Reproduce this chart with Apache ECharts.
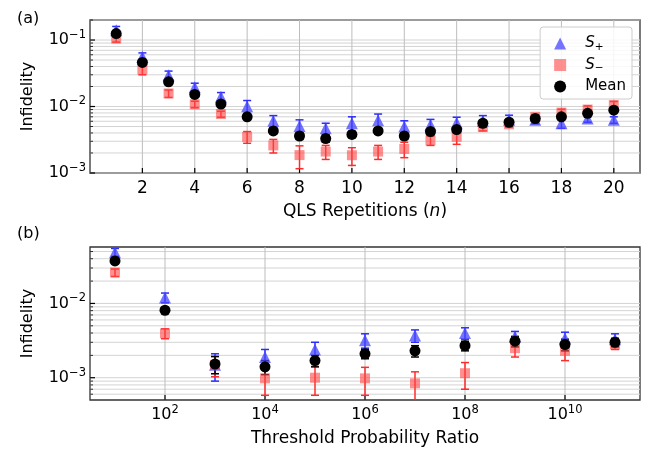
<!DOCTYPE html>
<html>
<head>
<meta charset="utf-8">
<script src="https://cdn.jsdelivr.net/npm/echarts@6/dist/echarts.min.js"></script>
<style>
  html, body { margin: 0; padding: 0; background: #fff; }
  #chart { width: 651px; height: 449px; }
</style>
</head>
<body>
<div id="chart"></div>
<script>
// panel (a): QLS repetitions
var reps = [1, 2, 3, 4, 5, 6, 7, 8, 9, 10, 11, 12, 13, 14, 15, 16, 17, 18, 19, 20];
var topSplus = [0.14, 0.056, 0.0296, 0.0194, 0.014, 0.0101, 0.0061, 0.0051, 0.0047, 0.0056, 0.0062, 0.005, 0.0053, 0.0057, 0.0061, 0.0063, 0.0063, 0.0056, 0.0066, 0.0063];
var topSplusErr = [0.02, 0.008, 0.0045, 0.003, 0.0022, 0.0022, 0.0012, 0.0012, 0.0009, 0.0014, 0.0015, 0.0011, 0.0011, 0.0012, 0.0012, 0.0011, 0.0008, 0.0009, 0.0008, 0.0007];
var topSminus = [0.105, 0.036, 0.0157, 0.0108, 0.0077, 0.0035, 0.0026, 0.00186, 0.0021, 0.00185, 0.0021, 0.0023, 0.0031, 0.0035, 0.0049, 0.0054, 0.007, 0.0081, 0.009, 0.0105];
var topSminusErr = [0.012, 0.006, 0.002, 0.0012, 0.0008, 0.0007, 0.0006, 0.0007, 0.0005, 0.00055, 0.0005, 0.0006, 0.0005, 0.0008, 0.0006, 0.0005, 0.0006, 0.001, 0.0012, 0.0014];
var topMean = [0.125, 0.046, 0.0235, 0.0152, 0.0109, 0.007, 0.0043, 0.0036, 0.0033, 0.0038, 0.0043, 0.0036, 0.0042, 0.0045, 0.0056, 0.0058, 0.0066, 0.007, 0.0079, 0.0088];
var topMeanErr = [0.008, 0.003, 0.0015, 0.001, 0.0007, 0.0004, 0.0004, 0.0004, 0.0004, 0.0004, 0.0004, 0.0004, 0.0004, 0.0004, 0.0004, 0.0004, 0.0004, 0.0005, 0.0005, 0.0006];

// panel (b): threshold probability ratio, stored as powers of ten
var ratioExp = [1, 2, 3, 4, 5, 6, 7, 8, 9, 10, 11];
var botSplus = [0.049, 0.012, 0.0015, 0.0019, 0.0024, 0.0032, 0.0037, 0.004, 0.0036, 0.0034, 0.0033];
var botSplusErr = [0.006, 0.0018, 0.0006, 0.0005, 0.0006, 0.0007, 0.0007, 0.0007, 0.0006, 0.0007, 0.0006];
var botSminus = [0.0261, 0.00395, 0.00148, 0.00098, 0.001, 0.00098, 0.00084, 0.00115, 0.0025, 0.0023, 0.0028];
var botSminusErr = [0.003, 0.0006, 0.00045, 0.0004, 0.00042, 0.0004, 0.00036, 0.00045, 0.0006, 0.0006, 0.0004];
var botMean = [0.0374, 0.0081, 0.00153, 0.0014, 0.0017, 0.0021, 0.0023, 0.0027, 0.0031, 0.0028, 0.003];
var botMeanErr = [0.003, 0.0006, 0.0004, 0.0003, 0.0003, 0.0003, 0.0004, 0.0004, 0.0005, 0.0005, 0.0004];

var topXTicks = [2, 4, 6, 8, 10, 12, 14, 16, 18, 20];
var botXTicks = [2, 4, 6, 8, 10];

var FONT = 'DejaVu Sans';
var chart = echarts.init(document.getElementById('chart'), null, {renderer: 'canvas'});

function lg(v) { return Math.log(v) / Math.LN10; }

// log positions of 1..9 x 10^n inside [lo, hi]
function logLines(lo, hi) {
    var out = [];
    for (var n = -5; n <= 1; n++) {
        for (var k = 1; k <= 9; k++) {
            var l = lg(k * Math.pow(10, n));
            if (l >= lo - 1e-9 && l <= hi + 1e-9) out.push({v: l, major: k === 1});
        }
    }
    return out;
}

function powLabel(v) {
    if (Math.abs(v - Math.round(v)) > 1e-6) return '';
    var e = Math.round(v);
    return '{b|10}{s|' + String(e).replace('-', '\u2212') + '}';
}

var labelRich = {
    b: {fontFamily: FONT, fontSize: 16, color: '#000'},
    s: {fontFamily: FONT, fontSize: 11.5, color: '#000', padding: [0, 0, 10, 0]}
};

function gridSeries(idx, yLines, xTicks, xMin, xMax) {
    return {
        type: 'custom', xAxisIndex: idx, yAxisIndex: idx, silent: true, z: 1,
        data: [[xMin, yLines[0].v]],
        renderItem: function (params, api) {
            var ch = [];
            yLines.forEach(function (g) {
                var a = api.coord([xMin, g.v]), b = api.coord([xMax, g.v]);
                ch.push({type: 'line', shape: {x1: a[0], y1: a[1], x2: b[0], y2: b[1]},
                    style: {stroke: '#d4d4d4', lineWidth: 1}});
                ch.push({type: 'line', shape: {x1: a[0], y1: a[1], x2: a[0] + (g.major ? 5 : 3), y2: a[1]},
                    style: {stroke: '#000', lineWidth: g.major ? 1.2 : 0.8}});
            });
            var yb = params.coordSys.y + params.coordSys.height;
            var yt = params.coordSys.y;
            xTicks.forEach(function (t) {
                var p = api.coord([t, 0])[0];
                ch.push({type: 'line', shape: {x1: p, y1: yt, x2: p, y2: yb},
                    style: {stroke: '#bdbdbd', lineWidth: 1}});
                ch.push({type: 'line', shape: {x1: p, y1: yb, x2: p, y2: yb - 5},
                    style: {stroke: '#000', lineWidth: 1.2}});
            });
            return {type: 'group', children: ch};
        }
    };
}

function errSeries(idx, xs, vals, errs, color) {
    var data = xs.map(function (x, i) {
        var lo = Math.max(vals[i] - errs[i], 1e-6);
        return [x, lg(lo), lg(vals[i] + errs[i])];
    });
    return {
        type: 'custom', xAxisIndex: idx, yAxisIndex: idx, silent: true, z: 3, clip: true,
        data: data,
        encode: {x: 0, y: [1, 2]},
        renderItem: function (params, api) {
            var a = api.coord([api.value(0), api.value(1)]);
            var b = api.coord([api.value(0), api.value(2)]);
            var st = {stroke: color, lineWidth: 1.5};
            return {type: 'group', children: [
                {type: 'line', shape: {x1: a[0], y1: a[1], x2: b[0], y2: b[1]}, style: st},
                {type: 'line', shape: {x1: a[0] - 4, y1: a[1], x2: a[0] + 4, y2: a[1]}, style: st},
                {type: 'line', shape: {x1: b[0] - 4, y1: b[1], x2: b[0] + 4, y2: b[1]}, style: st}
            ]};
        }
    };
}

function markSeries(idx, name, xs, vals, symbol, size, color) {
    return {
        type: 'scatter', name: name, xAxisIndex: idx, yAxisIndex: idx, z: 4,
        symbol: symbol, symbolSize: size,
        itemStyle: {color: color, opacity: 1},
        data: xs.map(function (x, i) { return [x, lg(vals[i])]; })
    };
}

var blueFill = 'rgba(70,70,255,0.75)';
var redFill = 'rgba(255,70,70,0.6)';

var topYMin = -3, topYMax = lg(0.2);
var botYMin = -3.3, botYMax = -1.24;

var series = [
    gridSeries(0, logLines(topYMin, topYMax), topXTicks, 0, 21),
    gridSeries(1, logLines(botYMin, botYMax), botXTicks, 0.5, 11.5),
    errSeries(0, reps, topSplus, topSplusErr, '#2b2bff'),
    markSeries(0, 'S+', reps, topSplus, 'triangle', 12, blueFill),
    errSeries(0, reps, topSminus, topSminusErr, '#ff2b2b'),
    markSeries(0, 'S\u2212', reps, topSminus, 'rect', 10, redFill),
    errSeries(0, reps, topMean, topMeanErr, '#000'),
    markSeries(0, 'Mean', reps, topMean, 'circle', 11, '#000'),
    errSeries(1, ratioExp, botSplus, botSplusErr, '#2b2bff'),
    markSeries(1, 'S+', ratioExp, botSplus, 'triangle', 12, blueFill),
    errSeries(1, ratioExp, botSminus, botSminusErr, '#ff2b2b'),
    markSeries(1, 'S\u2212', ratioExp, botSminus, 'rect', 10, redFill),
    errSeries(1, ratioExp, botMean, botMeanErr, '#000'),
    markSeries(1, 'Mean', ratioExp, botMean, 'circle', 11, '#000')
];

var nameStyle = {fontFamily: FONT, fontSize: 17, color: '#000'};

var option = {
    animation: false,
    backgroundColor: '#fff',
    textStyle: {fontFamily: FONT},
    title: [
        {text: '(a)', left: 12, top: 6, textStyle: {fontFamily: FONT, fontSize: 16, fontWeight: 'normal', color: '#000'}},
        {text: '(b)', left: 12, top: 221, textStyle: {fontFamily: FONT, fontSize: 16, fontWeight: 'normal', color: '#000'}}
    ],
    grid: [
        {left: 90, right: 11, top: 20, height: 153, show: true, borderColor: '#333', borderWidth: 1.3, backgroundColor: 'transparent'},
        {left: 90, right: 11, top: 247, height: 153, show: true, borderColor: '#333', borderWidth: 1.3, backgroundColor: 'transparent'}
    ],
    xAxis: [
        {
            type: 'value', gridIndex: 0, min: 0, max: 21, interval: 2,
            name: 'QLS Repetitions ({i|n})', nameLocation: 'middle', nameGap: 30,
            nameTextStyle: {fontFamily: FONT, fontSize: 17, color: '#000',
                rich: {i: {fontFamily: FONT, fontSize: 17, fontStyle: 'italic', color: '#000'}}},
            axisLine: {show: false}, axisTick: {show: false}, splitLine: {show: false},
            axisLabel: {fontFamily: FONT, fontSize: 17, color: '#000', margin: 7,
                formatter: function (v) { return (v >= 2 && v <= 20) ? String(v) : ''; }}
        },
        {
            type: 'value', gridIndex: 1, min: 0.5, max: 11.5, interval: 0.5,
            name: 'Threshold Probability Ratio', nameLocation: 'middle', nameGap: 30,
            nameTextStyle: nameStyle,
            axisLine: {show: false}, axisTick: {show: false}, splitLine: {show: false},
            axisLabel: {margin: 4, rich: labelRich,
                formatter: function (v) {
                    var r = Math.round(v);
                    return (Math.abs(v - r) < 1e-6 && botXTicks.indexOf(r) >= 0) ? powLabel(v) : '';
                }}
        }
    ],
    yAxis: [
        {
            type: 'value', gridIndex: 0, min: topYMin, max: topYMax, interval: 1,
            name: 'Infidelity', nameLocation: 'middle', nameGap: 54,
            nameTextStyle: {fontFamily: FONT, fontSize: 16, color: '#000'},
            axisLine: {show: false}, axisTick: {show: false}, splitLine: {show: false},
            axisLabel: {margin: 4, rich: labelRich, formatter: powLabel}
        },
        {
            type: 'value', gridIndex: 1, min: botYMin, max: botYMax, interval: 0.1,
            name: 'Infidelity', nameLocation: 'middle', nameGap: 54,
            nameTextStyle: {fontFamily: FONT, fontSize: 16, color: '#000'},
            axisLine: {show: false}, axisTick: {show: false}, splitLine: {show: false},
            axisLabel: {margin: 4, rich: labelRich, formatter: powLabel}
        }
    ],
    legend: {
        data: ['S+', 'S\u2212', 'Mean'],
        right: 19, top: 27, orient: 'vertical',
        itemWidth: 12, itemHeight: 12, itemGap: 5,
        padding: [9, 6, 5, 14],
        backgroundColor: 'rgba(255,255,255,0.85)',
        borderColor: '#cccccc', borderWidth: 1, borderRadius: 3,
        formatter: function (name) {
            if (name === 'Mean') return '{t|Mean}';
            return '{i|S}{sub|' + (name === 'S+' ? '+' : '\u2212') + '}';
        },
        textStyle: {
            fontFamily: FONT, fontSize: 15, color: '#000',
            rich: {
                t: {fontFamily: FONT, fontSize: 15, color: '#000', padding: [0, 0, 0, 14]},
                i: {fontFamily: FONT, fontSize: 15, fontStyle: 'italic', color: '#000', padding: [0, 0, 0, 14]},
                sub: {fontFamily: FONT, fontSize: 10.5, color: '#000', padding: [7, 0, 0, 0]}
            }
        }
    },
    series: series
};

chart.setOption(option);
</script>
</body>
</html>
